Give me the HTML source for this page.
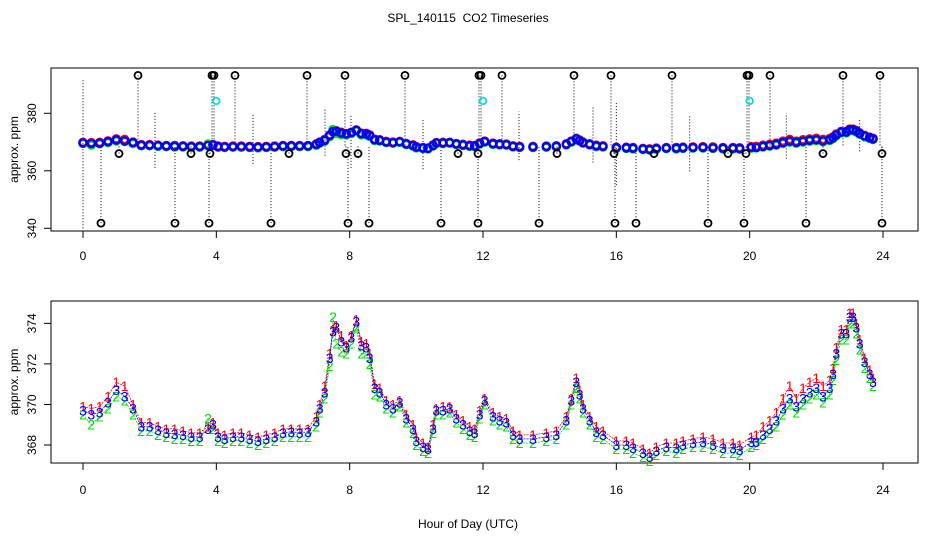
<!DOCTYPE html>
<html><head><meta charset="utf-8">
<style>
html,body{margin:0;padding:0;background:#fff;}
svg{display:block;font-family:"Liberation Sans",sans-serif;}
</style></head>
<body>
<svg id="chart" width="936" height="540" viewBox="0 0 936 540" xmlns="http://www.w3.org/2000/svg">
<rect width="936" height="540" fill="#fff"/>
<text x="468" y="22" font-size="12" text-anchor="middle">SPL_140115&#160; CO2 Timeseries</text>
<text x="468" y="528" font-size="12" text-anchor="middle">Hour of Day (UTC)</text>
<g id="top"></g>
<g id="bot"></g>
</svg>
<script>
const hours=[0,0.25,0.5,0.75,1,1.25,1.5,1.75,2,2.25,2.5,2.75,3,3.25,3.5,3.75,3.9,4.05,4.25,4.5,4.75,5,5.25,5.5,5.75,6,6.25,6.5,6.75,7,7.1,7.25,7.4,7.5,7.6,7.75,7.9,8.05,8.2,8.35,8.5,8.6,8.75,8.9,9.1,9.3,9.5,9.7,9.9,10,10.2,10.35,10.5,10.6,10.8,11,11.2,11.4,11.6,11.75,11.9,12.05,12.3,12.5,12.7,12.9,13.1,13.5,13.9,14.2,14.5,14.65,14.8,14.9,15,15.2,15.4,15.6,16,16.3,16.5,16.8,17,17.2,17.5,17.8,18,18.3,18.6,18.9,19.2,19.5,19.7,20.05,20.2,20.4,20.6,20.8,21,21.2,21.4,21.6,21.8,22,22.2,22.4,22.5,22.6,22.75,22.9,23,23.1,23.2,23.3,23.45,23.6,23.7];
const series3=[369.7,369.5,369.6,370.1,370.7,370.4,369.8,368.9,368.9,368.75,368.6,368.55,368.5,368.4,368.4,368.8,369.0,368.4,368.3,368.4,368.4,368.3,368.2,368.3,368.4,368.6,368.65,368.6,368.65,369.15,369.8,370.6,372.3,373.6,373.8,373.1,372.8,373.3,374.1,372.9,372.8,372.3,370.8,370.6,370.0,369.8,370.1,369.3,368.8,368.2,367.9,367.8,368.8,369.7,369.7,369.8,369.3,369.0,368.7,368.6,369.5,370.2,369.4,369.2,369.1,368.5,368.3,368.3,368.4,368.5,369.2,370.2,371.1,370.5,369.8,369.2,368.65,368.5,368.0,368.0,367.85,367.6,367.4,367.7,367.9,367.85,368.0,368.1,368.15,368.0,367.85,367.85,367.75,368.15,368.15,368.5,368.8,369.2,369.8,370.3,369.9,370.3,370.6,370.8,370.4,370.8,371.5,372.5,373.5,373.5,374.3,374.3,373.8,373.0,372.1,371.5,371.1];
const series1=[369.9,369.8,369.9,370.4,371.1,370.9,370.0,369.1,369.1,368.9,368.8,368.8,368.7,368.6,368.6,368.9,369.1,368.6,368.5,368.6,368.6,368.5,368.4,368.5,368.6,368.8,368.8,368.8,368.8,369.4,370.0,370.9,372.5,373.7,373.9,373.4,372.9,373.4,374.2,373.1,373.0,372.5,371.0,370.8,370.2,370.0,370.2,369.5,369.0,368.4,368.1,367.9,369.0,369.8,369.9,369.9,369.5,369.2,368.9,368.8,369.7,370.3,369.6,369.4,369.3,368.7,368.5,368.5,368.6,368.7,369.4,370.3,371.3,370.7,370.0,369.4,368.9,368.7,368.2,368.2,368.1,367.8,367.6,367.9,368.1,368.1,368.2,368.3,368.4,368.3,368.1,368.1,368.0,368.4,368.5,368.9,369.2,369.6,370.3,370.9,370.3,370.8,371.1,371.3,370.9,371.2,371.8,372.8,373.7,373.7,374.5,374.5,374.0,373.2,372.3,371.7,371.3];
const series2=[369.5,369.0,369.4,369.8,370.4,370.2,369.5,368.7,368.7,368.5,368.4,368.3,368.3,368.2,368.2,369.3,368.8,368.2,368.1,368.2,368.2,368.1,368.0,368.1,368.2,368.4,368.4,368.4,368.4,368.9,369.6,370.3,371.9,374.3,373.0,372.6,372.5,373.0,373.8,372.5,372.5,372.0,370.5,370.4,369.8,369.6,369.9,369.1,368.6,368.0,367.7,367.6,368.6,369.5,369.5,369.6,369.1,368.8,368.5,368.4,369.3,370.0,369.2,369.0,368.9,368.3,368.1,368.1,368.2,368.3,369.0,370.0,370.8,370.3,369.6,369.0,368.4,368.3,367.8,367.8,367.6,367.4,367.2,367.5,367.7,367.6,367.8,367.9,367.9,367.8,367.6,367.6,367.5,367.9,368.0,368.3,368.6,368.9,369.5,370.0,369.6,370.0,370.3,370.5,370.1,370.5,371.2,372.2,373.2,373.2,374.0,374.0,373.5,372.7,371.8,371.3,370.9];
const outlierHours=[1.65,3.87,3.93,4.56,6.72,7.86,9.66,11.88,11.94,12.57,14.73,15.84,17.67,19.92,19.98,20.61,22.8,23.91,0.54,2.76,3.78,5.64,7.95,8.58,10.74,11.85,13.68,15.96,16.59,18.75,19.83,21.69,23.97,1.08,3.24,3.81,6.18,7.89,8.25,11.25,11.85,14.22,15.93,17.13,19.35,19.89,22.2,23.97];
const outlierValues=[393.2,393.2,393.2,393.2,393.2,393.2,393.2,393.2,393.2,393.2,393.2,393.2,393.2,393.2,393.2,393.2,393.2,393.2,341.8,341.8,341.8,341.8,341.8,341.8,341.8,341.8,341.8,341.8,341.8,341.8,341.8,341.8,341.8,366,366,366,366,366,366,366,366,366,366,366,366,366,366,366];
const calHours=[4.0,12.0,20.0];
const calValues=[384.3,384.3,384.3];
const rangeHours=[0,2.16,5.1,7.26,8.04,10.2,13.08,15.3,16.0,18.2,21.1,23.3];
const rangeHigh=[392,380.8,380,382,379.6,378.2,380.6,382,383.8,379.6,380,377.9];
const rangeLow=[340,361,362.4,365.3,361,360.6,363.7,362.9,355,359.8,364.3,366.8];
const xTicks=[0,4,8,12,16,20,24];
const topYTicks=[340,360,380];
const botYTicks=[368,370,372,374];

const NS="http://www.w3.org/2000/svg";
function mk(p,t,a){const e=document.createElementNS(NS,t);for(const k in a)e.setAttribute(k,a[k]);p.appendChild(e);return e;}
const X=h=>83+h*33.333;
const Yt=v=>228.3-(v-340)*2.875;
const Yb=v=>445-(v-368)*20.28;
const L=51,R=918;
const colors=["#ff0000","#00dd00","#0000ff"];
const allSeries=[series1,series2,series3];

function axes(g,top,bottom,Y,yt,labY){
  const box=mk(g,'rect',{x:L,y:top,width:R-L,height:bottom-top,fill:'none',stroke:'#000','stroke-width':1});
  
  
  xTicks.forEach(t=>{
    const tk=mk(g,'line',{x1:X(t),x2:X(t),y1:bottom,y2:bottom+7,stroke:'#000'});
    
    
    const tl=mk(g,'text',{x:X(t),y:labY,'font-size':12,'text-anchor':'middle'});
    tl.textContent=t;
    
    
  });
  yt.forEach(t=>{
    const tk=mk(g,'line',{x1:L-7,x2:L,y1:Y(t),y2:Y(t),stroke:'#000'});
    
    
    const tl=mk(g,'text',{x:0,y:0,'font-size':12,'text-anchor':'middle',transform:`translate(36,${Y(t)}) rotate(-90)`});
    tl.textContent=t;
    
    
  });
  const yt2=mk(g,'text',{x:0,y:0,'font-size':12,'text-anchor':'middle',transform:`translate(18,${(top+bottom)/2}) rotate(-90)`});
  yt2.textContent='approx. ppm';
  
  
}

const gt=document.getElementById('top');
axes(gt,68,231,Yt,topYTicks,260);
rangeHours.forEach((h,i)=>{
  const l=mk(gt,'line',{x1:X(h),x2:X(h),y1:Yt(rangeLow[i]),y2:Yt(rangeHigh[i]),stroke:'#000','stroke-dasharray':'1,2'});
  
  
});
outlierHours.forEach((h,i)=>{
  const l=mk(gt,'line',{x1:X(h),x2:X(h),y1:Yt(outlierValues[i]),y2:Yt(368.5),stroke:'#000','stroke-dasharray':'1,2'});
  
  
});
allSeries.forEach((s,k)=>{
  s.forEach((v,i)=>{
    const c=mk(gt,'circle',{cx:X(hours[i]),cy:Yt(v),r:3.6,fill:'none',stroke:colors[k],'stroke-width':2.4});
    
    
  });
});
outlierHours.forEach((h,i)=>{
  const c=mk(gt,'circle',{cx:X(h),cy:Yt(outlierValues[i]),r:3.5,fill:'none',stroke:'#000','stroke-width':1.8});
  
  
});
calHours.forEach((h,i)=>{
  const c=mk(gt,'circle',{cx:X(h),cy:Yt(calValues[i]),r:3.3,fill:'none',stroke:'#00e0e0','stroke-width':1.8});
  
  
});

const gb=document.getElementById('bot');
axes(gb,301,463,Yb,botYTicks,494);
allSeries.forEach((s,k)=>{
  const d=s.map((v,i)=>(i?'L':'M')+X(hours[i]).toFixed(1)+','+Yb(v).toFixed(1)).join(' ');
  const p=mk(gb,'path',{d:d,fill:'none',stroke:colors[k],'stroke-width':0.8,'stroke-dasharray':'2,1'});
  
  
});
allSeries.forEach((s,k)=>{
  s.forEach((v,i)=>{
    const t=mk(gb,'text',{x:X(hours[i]),y:Yb(v)+5,'font-size':14,'text-anchor':'middle',fill:colors[k]});
    t.textContent=String(k+1);
    
    
  });
});
</script>
</body></html>
